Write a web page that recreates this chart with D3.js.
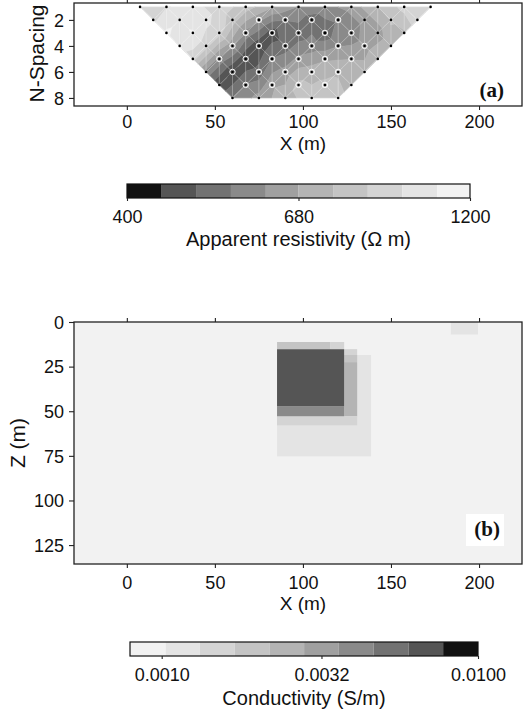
<!DOCTYPE html>
<html><head><meta charset="utf-8">
<script src="https://cdn.jsdelivr.net/npm/d3@7"></script>
<style>body{margin:0;background:#fff} svg{display:block}</style>
</head><body>
<svg id="c" width="532" height="717"></svg>
<script>
// ---------------- DATA ----------------
const xTicks = [0, 50, 100, 150, 200];
const nTicks = [2, 4, 6, 8];
const zTicks = [0, 25, 50, 75, 100, 125];

// pseudosection: N-spacing rows, first station x (m) and apparent resistivity (ohm m) per station (15 m step)
const rowN = [1, 2, 3, 4, 5, 6, 7, 8];
const rowX0 = [7.5, 15, 22.5, 30, 37.5, 45, 52.5, 60];
const stationStep = 15;
const rho = [
  [950, 960, 1000, 920, 820, 700, 620, 600, 650, 770, 900, 960],
  [940, 1050, 1000, 820, 640, 560, 520, 570, 650, 780, 950],
  [1100, 1090, 900, 600, 465, 520, 510, 570, 650, 760],
  [1020, 900, 640, 455, 525, 590, 620, 660, 750],
  [900, 600, 450, 560, 640, 680, 690, 760],
  [600, 445, 520, 650, 730, 760, 720],
  [450, 560, 680, 800, 800, 720],
  [560, 650, 740, 820, 820]
];
// stations marked with a white ring (x in m) per row
const circled = [
  [],
  [75, 90, 105, 120],
  [67.5, 82.5, 97.5, 112.5, 127.5],
  [60, 75, 90, 105, 120, 135],
  [52.5, 67.5, 82.5, 97.5, 112.5, 127.5],
  [60, 75, 90, 105, 120],
  [67.5, 82.5, 97.5, 112.5],
  []
];

const resEdges = [400, 447, 499, 558, 624, 693, 774, 865, 966, 1080, 1200];
const resColors = ["#111111", "#555555", "#727272", "#8a8a8a", "#a0a0a0", "#b4b4b4", "#c4c4c4", "#d4d4d4", "#e4e4e4", "#f2f2f2"];
const resTickValues = [400, 692.8, 1200];
const resTickLabels = ["400", "680", "1200"];

// conductivity model cells (drawn in order)
const cellX0 = [85.3, 123.4, 123.4, 123.4, 85.3, 85.3, 85.3, 85.3, 115.4, 184];
const cellX1 = [138.7, 130.8, 130.8, 130.8, 130.8, 123.4, 123.4, 115.4, 123.4, 199.4];
const cellZ0 = [18.5, 15.2, 18.5, 22.5, 52.8, 47.2, 15.2, 11.2, 11.2, 0];
const cellZ1 = [75.3, 18.5, 22.5, 52.8, 57.9, 52.8, 47.2, 15.2, 15.2, 7];
const cellSigma = [0.0012, 0.0015, 0.0019, 0.0025, 0.0015, 0.0041, 0.0068, 0.0019, 0.0015, 0.0012];
const backgroundSigma = 0.0009;

const condEdges = [0.000794, 0.00103, 0.00132, 0.0017, 0.00219, 0.00282, 0.00363, 0.00468, 0.00603, 0.00776, 0.01];
const condColors = ["#f2f2f2", "#e4e4e4", "#d4d4d4", "#c4c4c4", "#b4b4b4", "#a0a0a0", "#8a8a8a", "#727272", "#555555", "#111111"];
const condTickValues = [0.001, 0.0032, 0.01];
const condTickLabels = ["0.0010", "0.0032", "0.0100"];

// ---------------- DRAW ----------------
const svg = d3.select("#c");
const FONT = "'Liberation Sans', Arial, Helvetica, sans-serif";
const L = 74, R = 522;
const x = d3.scaleLinear().domain([-30, 224.4]).range([L, R]);
const aTop = 3, aBot = 106;
const yA = d3.scaleLinear().domain([0.7, 8.62]).range([aTop, aBot]);
const bTop = 322, bBot = 564;
const zB = d3.scaleLinear().domain([0, 135.6]).range([bTop, bBot]);

const condColor = d3.scaleThreshold().domain(condEdges.slice(1, -1)).range(condColors);

// ---- panel (a) ----
const pts = [];
rho.forEach((row, i) => {
  row.forEach((v, j) => {
    const xm = rowX0[i] + j * stationStep;
    pts.push({xm, n: rowN[i], v, px: x(xm), py: yA(rowN[i]), lv: Math.log10(v),
      ring: circled[i].some(c => Math.abs(c - xm) < 0.1)});
  });
});
const del = d3.Delaunay.from(pts, p => p.xm / 7.5, p => p.n * 0.8);
const tris = [];
for (let t = 0; t < del.triangles.length; t += 3) {
  tris.push([pts[del.triangles[t]], pts[del.triangles[t + 1]], pts[del.triangles[t + 2]]]);
}
function clip(poly, level, above) {
  const out = [];
  for (let i = 0; i < poly.length; i++) {
    const a = poly[i], b = poly[(i + 1) % poly.length];
    const ia = above ? a.lv >= level : a.lv < level;
    const ib = above ? b.lv >= level : b.lv < level;
    if (ia) out.push(a);
    if (ia !== ib) {
      const t = (level - a.lv) / (b.lv - a.lv);
      out.push({px: a.px + t * (b.px - a.px), py: a.py + t * (b.py - a.py), lv: level});
    }
  }
  return out;
}
const gA = svg.append("g");
const bands = [];
tris.forEach(tri => {
  for (let k = 0; k < resColors.length; k++) {
    const lo = k === 0 ? -Infinity : Math.log10(resEdges[k]);
    const hi = k === resColors.length - 1 ? Infinity : Math.log10(resEdges[k + 1]);
    let p = tri.slice();
    if (lo > -Infinity) p = clip(p, lo, true);
    if (p.length >= 3 && hi < Infinity) p = clip(p, hi, false);
    if (p.length >= 3) bands.push({k, p});
  }
});
gA.selectAll("path.band").data(bands).join("path")
  .attr("d", d => "M" + d.p.map(q => q.px + "," + q.py).join("L") + "Z")
  .attr("fill", d => resColors[d.k]).attr("stroke", d => resColors[d.k]).attr("stroke-width", 0.6)
  .attr("stroke-linejoin", "round");
// triangulation edges
gA.selectAll("path.tri").data(tris).join("path")
  .attr("d", t => "M" + t.map(q => q.px + "," + q.py).join("L") + "Z")
  .attr("fill", "none").attr("stroke", "#ffffff").attr("stroke-opacity", 0.22).attr("stroke-width", 0.7);
// stations
gA.selectAll("circle.ring").data(pts.filter(p => p.ring)).join("circle")
  .attr("cx", p => p.px).attr("cy", p => p.py).attr("r", 2.7)
  .attr("fill", "none").attr("stroke", "#ffffff").attr("stroke-width", 1.0);
gA.selectAll("circle.dot").data(pts).join("circle")
  .attr("cx", p => p.px).attr("cy", p => p.py).attr("r", 1.3).attr("fill", "#000");

// ---- panel (b) ----
const gB = svg.append("g");
gB.append("rect").attr("x", L).attr("y", bTop).attr("width", R - L).attr("height", bBot - bTop)
  .attr("fill", condColor(backgroundSigma));
gB.selectAll("rect.cell").data(cellSigma.map((s, i) => ({s, i}))).join("rect")
  .attr("x", d => x(cellX0[d.i])).attr("width", d => x(cellX1[d.i]) - x(cellX0[d.i]))
  .attr("y", d => zB(cellZ0[d.i])).attr("height", d => zB(cellZ1[d.i]) - zB(cellZ0[d.i]))
  .attr("fill", d => condColor(d.s));

// ---- axes & frames ----
function frame(top, bot) {
  svg.append("rect").attr("x", L).attr("y", top).attr("width", R - L).attr("height", bot - top)
    .attr("fill", "none").attr("stroke", "#222").attr("stroke-width", 1.3);
}
function styleAxis(g) {
  g.select(".domain").remove();
  g.selectAll("line").attr("stroke", "#222").attr("stroke-width", 1.1);
  g.selectAll("text").attr("font-family", FONT).attr("font-size", 18).attr("fill", "#111");
}
function panelAxes(top, bot, yScale, yTicks, labBase) {
  svg.append("g").attr("transform", `translate(0,${top})`)
    .call(d3.axisTop(x).tickValues(xTicks).tickSize(4).tickFormat("")).call(styleAxis);
  const gx = svg.append("g").attr("transform", `translate(0,${bot})`)
    .call(d3.axisBottom(x).tickValues(xTicks).tickSize(4).tickFormat(d3.format("d"))).call(styleAxis);
  gx.selectAll("text").attr("y", labBase).attr("dy", 0);
  const gy = svg.append("g").attr("transform", `translate(${L},0)`)
    .call(d3.axisLeft(yScale).tickValues(yTicks).tickSize(5).tickFormat(d3.format("d"))).call(styleAxis);
  gy.selectAll("text").attr("x", -10).attr("dy", "0.35em");
}
frame(aTop, aBot);
panelAxes(aTop, aBot, yA, nTicks, 22);
frame(bTop, bBot);
panelAxes(bTop, bBot, zB, zTicks, 25);

function txt(t, xx, yy, size, opts = {}) {
  const e = svg.append("text").attr("x", xx).attr("y", yy).text(t)
    .attr("font-family", opts.family || FONT).attr("font-size", size)
    .attr("text-anchor", opts.anchor || "middle").attr("fill", "#111");
  if (opts.bold) e.attr("font-weight", "bold");
  if (opts.rot) e.attr("transform", `rotate(-90,${xx},${yy})`);
  return e;
}
txt("X (m)", x(100), 150, 19);
txt("X (m)", x(100), 610, 19);
txt("N-Spacing", 44, (aTop + aBot) / 2 - 1, 21, {rot: true});
txt("Z (m)", 25, (bTop + bBot) / 2, 21, {rot: true});

// panel labels
txt("(a)", 504, 97, 21, {anchor: "end", bold: true, family: "'Liberation Serif', 'Times New Roman', serif"});
svg.append("rect").attr("x", 466).attr("y", 514).attr("width", 38).attr("height", 32).attr("fill", "#fff");
txt("(b)", 500, 536, 21, {anchor: "end", bold: true, family: "'Liberation Serif', 'Times New Roman', serif"});

// ---- colorbars ----
function colorbar(edges, colors, x0, x1, top, h, tickVals, tickLabs, title, labBase, titleBase) {
  const s = d3.scaleLog().domain([edges[0], edges[edges.length - 1]]).range([x0, x1]);
  const g = svg.append("g");
  g.selectAll("rect").data(colors.map((c, i) => ({c, i}))).join("rect")
    .attr("x", d => s(edges[d.i])).attr("width", d => s(edges[d.i + 1]) - s(edges[d.i]))
    .attr("y", top).attr("height", h).attr("fill", d => d.c);
  g.append("rect").attr("x", x0).attr("y", top).attr("width", x1 - x0).attr("height", h)
    .attr("fill", "none").attr("stroke", "#111").attr("stroke-width", 1.2);
  const ax = svg.append("g").attr("transform", `translate(0,${top + h})`)
    .call(d3.axisBottom(s).tickValues(tickVals).tickSize(3).tickFormat((d, i) => tickLabs[i])).call(styleAxis);
  ax.selectAll("text").attr("y", labBase).attr("dy", 0);
  txt(title, (x0 + x1) / 2, titleBase, 20);
}
colorbar(resEdges, resColors, 127, 470, 184, 14, resTickValues, resTickLabels,
  "Apparent resistivity (\u03A9 m)", 25, 246);
colorbar(condEdges, condColors, 130, 478, 642, 14, condTickValues, condTickLabels,
  "Conductivity (S/m)", 24.7, 705);
</script>
</body></html>
